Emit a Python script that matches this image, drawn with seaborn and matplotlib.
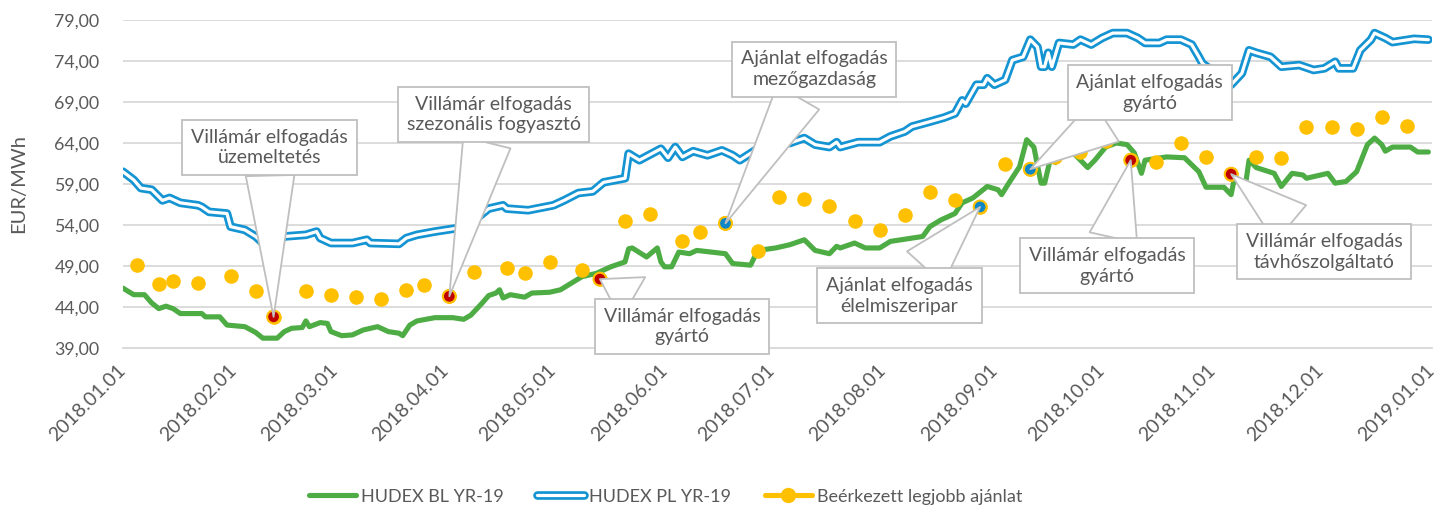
import matplotlib

matplotlib.use("Agg")

import matplotlib.dates as mdates
import matplotlib.pyplot as plt
import pandas as pd
import seaborn as sns
from matplotlib.legend_handler import HandlerTuple
from matplotlib.lines import Line2D
from matplotlib.ticker import FuncFormatter

# HUDEX BL YR-19 (EUR/MWh)
BL_DATES = [
    "2018-01-01", "2018-01-04", "2018-01-07", "2018-01-09", "2018-01-11", "2018-01-13",
    "2018-01-15", "2018-01-17", "2018-01-23", "2018-01-24", "2018-01-28", "2018-01-30",
    "2018-02-04", "2018-02-07", "2018-02-09", "2018-02-13", "2018-02-15", "2018-02-17",
    "2018-02-20", "2018-02-21", "2018-02-22", "2018-02-25", "2018-02-27", "2018-02-28",
    "2018-03-03", "2018-03-06", "2018-03-09", "2018-03-13", "2018-03-16", "2018-03-19",
    "2018-03-20", "2018-03-22", "2018-03-24", "2018-03-29", "2018-04-03", "2018-04-06",
    "2018-04-08", "2018-04-11", "2018-04-13", "2018-04-15", "2018-04-16", "2018-04-17",
    "2018-04-19", "2018-04-23", "2018-04-25", "2018-04-30", "2018-05-03", "2018-05-06",
    "2018-05-09", "2018-05-13", "2018-05-17", "2018-05-21", "2018-05-22", "2018-05-23",
    "2018-05-27", "2018-05-30", "2018-05-31", "2018-06-01", "2018-06-03", "2018-06-05",
    "2018-06-08", "2018-06-10", "2018-06-14", "2018-06-18", "2018-06-20", "2018-06-25",
    "2018-06-27", "2018-07-02", "2018-07-06", "2018-07-10", "2018-07-13", "2018-07-17",
    "2018-07-19", "2018-07-20", "2018-07-24", "2018-07-27", "2018-07-31", "2018-08-03",
    "2018-08-09", "2018-08-12", "2018-08-14", "2018-08-17", "2018-08-21", "2018-08-23",
    "2018-08-26", "2018-08-30", "2018-09-02", "2018-09-03", "2018-09-05", "2018-09-08",
    "2018-09-10", "2018-09-12", "2018-09-14", "2018-09-15", "2018-09-17", "2018-09-18",
    "2018-09-19", "2018-09-23", "2018-09-25", "2018-09-27", "2018-09-29", "2018-10-02",
    "2018-10-05", "2018-10-08", "2018-10-10", "2018-10-12", "2018-10-13", "2018-10-19",
    "2018-10-24", "2018-10-28", "2018-10-30", "2018-11-04", "2018-11-06", "2018-11-07",
    "2018-11-10", "2018-11-11", "2018-11-13", "2018-11-18", "2018-11-20", "2018-11-23",
    "2018-11-26", "2018-11-27", "2018-12-03", "2018-12-05", "2018-12-08", "2018-12-11",
    "2018-12-14", "2018-12-16", "2018-12-18", "2018-12-19", "2018-12-21", "2018-12-26",
    "2018-12-28", "2018-12-31",
]
BL_VALUES = [
    46.3, 45.5, 45.5, 44.5, 43.8, 44.1,
    43.8, 43.2, 43.2, 42.8, 42.8, 41.8,
    41.6, 40.9, 40.2, 40.2, 41.0, 41.4,
    41.5, 42.3, 41.6, 42.1, 42.0, 41.0,
    40.5, 40.6, 41.2, 41.6, 41.0, 40.8,
    40.5, 41.8, 42.3, 42.7, 42.7, 42.5,
    43.0, 44.4, 45.4, 45.7, 46.1, 45.1,
    45.5, 45.2, 45.7, 45.8, 46.1, 46.9,
    47.7, 48.1, 48.9, 49.5, 51.1, 51.2,
    50.1, 51.2, 49.5, 48.9, 48.9, 50.7,
    50.5, 50.9, 50.7, 50.5, 49.3, 49.1,
    50.9, 51.2, 51.6, 52.2, 50.9, 50.5,
    51.4, 51.2, 51.8, 51.2, 51.2, 52.0,
    52.4, 52.6, 53.8, 54.6, 55.4, 56.7,
    57.3, 58.7, 58.3, 57.7, 59.1, 61.1,
    64.4, 63.5, 59.1, 59.1, 62.8, 61.6,
    62.8, 62.8, 61.9, 61.0, 61.9, 63.5,
    64.0, 63.8, 62.8, 60.3, 61.9, 62.3,
    62.2, 60.5, 58.6, 58.6, 57.7, 59.9,
    58.9, 61.9, 61.0, 60.3, 58.7, 60.3,
    60.1, 59.7, 60.3, 59.1, 59.3, 60.5,
    63.8, 64.6, 63.8, 63.0, 63.5, 63.5,
    62.9, 62.9,
]

# HUDEX PL YR-19 (EUR/MWh)
PL_DATES = [
    "2018-01-01", "2018-01-04", "2018-01-06", "2018-01-09", "2018-01-12", "2018-01-14",
    "2018-01-17", "2018-01-22", "2018-01-23", "2018-01-25", "2018-01-30", "2018-01-31",
    "2018-02-04", "2018-02-07", "2018-02-09", "2018-02-13", "2018-02-15", "2018-02-21",
    "2018-02-24", "2018-02-25", "2018-02-28", "2018-03-06", "2018-03-10", "2018-03-11",
    "2018-03-19", "2018-03-21", "2018-03-24", "2018-03-29", "2018-04-07", "2018-04-09",
    "2018-04-13", "2018-04-17", "2018-04-18", "2018-04-24", "2018-05-01", "2018-05-04",
    "2018-05-08", "2018-05-12", "2018-05-15", "2018-05-21", "2018-05-22", "2018-05-25",
    "2018-05-31", "2018-06-02", "2018-06-04", "2018-06-06", "2018-06-09", "2018-06-13",
    "2018-06-17", "2018-06-20", "2018-06-22", "2018-06-27", "2018-07-02", "2018-07-06",
    "2018-07-10", "2018-07-13", "2018-07-17", "2018-07-19", "2018-07-20", "2018-07-25",
    "2018-07-31", "2018-08-03", "2018-08-07", "2018-08-09", "2018-08-14", "2018-08-18",
    "2018-08-21", "2018-08-23", "2018-08-24", "2018-08-27", "2018-08-29", "2018-08-30",
    "2018-09-01", "2018-09-04", "2018-09-06", "2018-09-09", "2018-09-11", "2018-09-13",
    "2018-09-14", "2018-09-15", "2018-09-16", "2018-09-17", "2018-09-19", "2018-09-23",
    "2018-09-25", "2018-09-28", "2018-10-01", "2018-10-04", "2018-10-08", "2018-10-11",
    "2018-10-13", "2018-10-17", "2018-10-19", "2018-10-23", "2018-10-26", "2018-10-28",
    "2018-10-29", "2018-11-06", "2018-11-09", "2018-11-11", "2018-11-13", "2018-11-17",
    "2018-11-20", "2018-11-25", "2018-11-29", "2018-12-02", "2018-12-05", "2018-12-06",
    "2018-12-10", "2018-12-12", "2018-12-15", "2018-12-16", "2018-12-19", "2018-12-21",
    "2018-12-27", "2018-12-31",
]
PL_VALUES = [
    60.5, 59.5, 58.5, 58.3, 57.0, 57.3,
    56.7, 56.4, 56.2, 55.6, 55.4, 53.8,
    53.4, 52.6, 51.8, 51.8, 52.6, 52.8,
    53.2, 52.4, 51.8, 51.8, 52.2, 51.8,
    51.7, 52.4, 52.8, 53.2, 53.8, 54.6,
    56.0, 56.4, 56.0, 55.8, 56.4, 57.0,
    57.9, 58.1, 59.2, 59.7, 62.7, 61.9,
    63.3, 62.2, 63.5, 62.3, 63.0, 62.5,
    63.1, 62.5, 61.9, 63.3, 63.8, 64.0,
    64.6, 63.8, 63.5, 64.1, 63.5, 64.1,
    64.1, 64.8, 65.4, 66.0, 66.6, 67.1,
    67.6, 69.2, 68.8, 71.1, 71.1, 71.9,
    71.1, 71.7, 74.1, 74.5, 76.6, 75.7,
    73.3, 73.3, 75.0, 73.3, 76.2, 76.0,
    76.6, 76.0, 76.8, 77.4, 77.4, 76.8,
    76.2, 76.2, 76.6, 76.6, 76.0, 74.5,
    73.7, 71.1, 72.5, 75.3, 75.0, 74.5,
    73.3, 73.5, 72.9, 73.1, 73.9, 73.1,
    73.1, 75.3, 76.6, 77.4, 76.8, 76.3,
    76.7, 76.6,
]

# Beérkezett legjobb ajánlat (weekly best offers)
OFFER_DATES = [
    "2018-01-05", "2018-01-11", "2018-01-15", "2018-01-22", "2018-01-31", "2018-02-07",
    "2018-02-12", "2018-02-21", "2018-02-28", "2018-03-07", "2018-03-14", "2018-03-21",
    "2018-03-26", "2018-04-02", "2018-04-09", "2018-04-18", "2018-04-23", "2018-04-30",
    "2018-05-09", "2018-05-14", "2018-05-21", "2018-05-28", "2018-06-06", "2018-06-11",
    "2018-06-18", "2018-06-27", "2018-07-03", "2018-07-10", "2018-07-17", "2018-07-24",
    "2018-07-31", "2018-08-07", "2018-08-14", "2018-08-21", "2018-08-28", "2018-09-04",
    "2018-09-11", "2018-09-18", "2018-09-25", "2018-10-02", "2018-10-09", "2018-10-16",
    "2018-10-23", "2018-10-30", "2018-11-06", "2018-11-13", "2018-11-20", "2018-11-27",
    "2018-12-04", "2018-12-11", "2018-12-18", "2018-12-25",
]
OFFER_VALUES = [
    49.1, 46.8, 47.2, 46.9, 47.8, 45.9,
    42.8, 45.9, 45.5, 45.2, 45.0, 46.1,
    46.7, 45.3, 48.3, 48.8, 48.1, 49.5,
    48.5, 47.4, 54.5, 55.4, 52.0, 53.1,
    54.2, 50.8, 57.4, 57.2, 56.3, 54.5,
    53.4, 55.2, 58.0, 57.0, 56.2, 61.4,
    60.8, 62.3, 62.9, 64.2, 61.9, 61.7,
    64.0, 62.3, 60.2, 62.3, 62.2, 65.9,
    66.0, 65.7, 67.2, 66.1,
]

# accepted offers: date, type, callout text
ACCEPT_DATES = [
    "2018-02-12", "2018-04-02", "2018-05-14", "2018-06-18",
    "2018-08-28", "2018-09-11", "2018-10-09", "2018-11-06",
]
ACCEPT_KINDS = [
    "villamar", "villamar", "villamar", "ajanlat",
    "ajanlat", "ajanlat", "villamar", "villamar",
]
ACCEPT_LABELS = [
    "Villámár elfogadás\nüzemeltetés",
    "Villámár elfogadás\nszezonális fogyasztó",
    "Villámár elfogadás\ngyártó",
    "Ajánlat elfogadás\nmezőgazdaság",
    "Ajánlat elfogadás\nélelmiszeripar",
    "Ajánlat elfogadás\ngyártó",
    "Villámár elfogadás\ngyártó",
    "Villámár elfogadás\ntávhőszolgáltató",
]
# box centre offset from the point, in points
CALLOUT_OFFSETS = [
    (-3, 122), (32, 131), (59, -34), (64, 111),
    (-58, -64), (86, 55), (-17, -76), (67, -56),
]

GREEN = "#4EAC45"
BLUE = "#1494D2"
YELLOW = "#FFC000"
RED = "#C00000"
ACCEPT_BLUE = "#0F86C6"
TEXT = "#595959"
GRID = "#D9D9D9"
BOX_EDGE = "#BFBFBF"

sns.set_style("white")
plt.rcParams["font.family"] = ["Lato", "DejaVu Sans"]

bl = pd.DataFrame({"date": pd.to_datetime(BL_DATES), "value": BL_VALUES})
pl = pd.DataFrame({"date": pd.to_datetime(PL_DATES), "value": PL_VALUES})
offers = pd.DataFrame({"date": pd.to_datetime(OFFER_DATES), "value": OFFER_VALUES})
accepted = pd.DataFrame({"date": pd.to_datetime(ACCEPT_DATES), "kind": ACCEPT_KINDS, "label": ACCEPT_LABELS})
accepted = accepted.merge(offers, on="date", how="left")

fig = plt.figure(figsize=(14.38, 5.12), dpi=100)
ax = fig.add_axes([0.0855, 0.3203, 0.9103, 0.6407])

line_kw = dict(solid_joinstyle="round", solid_capstyle="round")
sns.lineplot(data=bl, x="date", y="value", color=GREEN, lw=3.7, estimator=None, ax=ax, zorder=3, **line_kw)
sns.lineplot(data=pl, x="date", y="value", color=BLUE, lw=6.2, estimator=None, ax=ax, zorder=3, **line_kw)
sns.lineplot(data=pl, x="date", y="value", color="white", lw=2.3, estimator=None, ax=ax, zorder=3.1, **line_kw)
sns.scatterplot(data=offers, x="date", y="value", color=YELLOW, s=110, linewidth=0, ax=ax, zorder=4)
sns.scatterplot(
    data=accepted, x="date", y="value", hue="kind",
    palette={"villamar": RED, "ajanlat": ACCEPT_BLUE},
    s=85, edgecolor=YELLOW, linewidth=1.5, legend=False, ax=ax, zorder=5,
)

for row, (dx, dy) in zip(accepted.itertuples(), CALLOUT_OFFSETS):
    ax.annotate(
        row.label,
        xy=(mdates.date2num(row.date), row.value),
        xytext=(dx, dy), textcoords="offset points",
        ha="center", va="center", fontsize=14, color=TEXT, linespacing=1.25,
        bbox=dict(boxstyle="square,pad=0.45", fc="white", ec=BOX_EDGE, lw=1.3),
        arrowprops=dict(
            arrowstyle="wedge,tail_width=2.5,shrink_factor=0.5",
            fc="white", ec=BOX_EDGE, lw=1.3, shrinkA=0, shrinkB=0, mutation_scale=14,
        ),
        zorder=6,
    )

ax.set_ylim(39, 79)
ax.set_yticks(range(39, 80, 5))
ax.yaxis.set_major_formatter(FuncFormatter(lambda v, _: f"{v:.2f}".replace(".", ",")))
ax.set_xlim(pd.Timestamp("2018-01-01"), pd.Timestamp("2019-01-01"))
month_starts = pd.date_range("2018-01-01", "2019-01-01", freq="MS")
ax.set_xticks(month_starts)
ax.set_xticklabels([d.strftime("%Y.%m.%d") for d in month_starts])
for lab in ax.get_xticklabels():
    lab.set_rotation(45)
    lab.set_ha("right")
    lab.set_va("center")
    lab.set_rotation_mode("anchor")

ax.tick_params(axis="x", length=5, width=1.2, color=GRID, labelsize=14, labelcolor=TEXT, pad=9)
ax.tick_params(axis="y", length=0, labelsize=12.8, labelcolor=TEXT, pad=17)
ax.yaxis.grid(True, color=GRID, lw=1.3)
ax.xaxis.grid(False)
ax.set_axisbelow(True)
for side in ("left", "top", "right"):
    ax.spines[side].set_visible(False)
ax.spines["bottom"].set_color(GRID)
ax.spines["bottom"].set_linewidth(1.3)

ax.set_xlabel("")
ax.set_ylabel("EUR/MWh", fontsize=14.5, color=TEXT)
ax.yaxis.set_label_coords(-0.073, 0.5)

h_bl = Line2D([], [], color=GREEN, lw=3.7, solid_capstyle="round")
h_pl = (
    Line2D([], [], color=BLUE, lw=6.2, solid_capstyle="round"),
    Line2D([], [], color="white", lw=2.3, solid_capstyle="round"),
)
h_of = Line2D([], [], color=YELLOW, lw=3.7, marker="o", markersize=10, solid_capstyle="round")
fig.legend(
    [h_bl, h_pl, h_of],
    ["HUDEX BL YR-19", "HUDEX PL YR-19", "Beérkezett legjobb ajánlat"],
    handler_map={tuple: HandlerTuple(ndivide=1, pad=0)},
    loc="center left", bbox_to_anchor=(0.215, 0.03), ncol=3, frameon=False,
    borderpad=0, borderaxespad=0,
    fontsize=13, handlelength=2.6, handletextpad=0.28, columnspacing=1.85,
    labelcolor=TEXT,
)

fig.savefig("out.png", dpi=100)
